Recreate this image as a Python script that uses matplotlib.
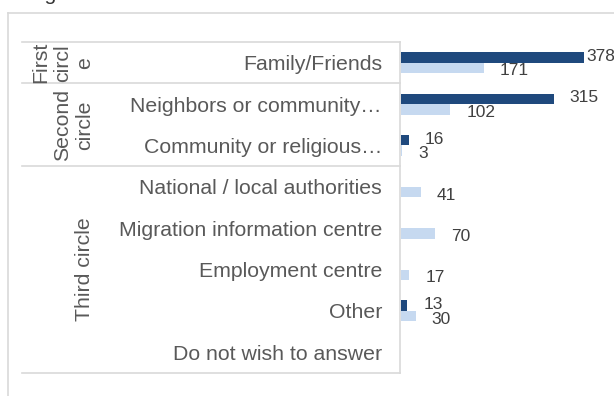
import matplotlib.pyplot as plt
from matplotlib.transforms import blended_transform_factory

plt.rcParams["font.family"] = ["Liberation Sans", "DejaVu Sans"]

W, H = 614, 396

categories = [
    "Family/Friends",
    "Neighbors or community…",
    "Community or religious…",
    "National / local authorities",
    "Migration information centre",
    "Employment centre",
    "Other",
    "Do not wish to answer",
]
groups = ["First\ncircl\ne", "Second\ncircle", "Third circle"]
group_rows = [(0, 0), (1, 2), (3, 7)]

series_dark = [378, 315, 16, 0, 0, 0, 13, 0]
series_light = [171, 102, 3, 41, 70, 17, 30, 0]

DARK = "#1f497d"
LIGHT = "#c6d9f0"
GRID = "#d9d9d9"
TEXT = "#595959"
LABEL = "#404040"

# table area in pixels
TOP, BOTTOM = 42, 373
BAR_X0 = 401
PX_PER_UNIT = 0.4845

fig = plt.figure(figsize=(W / 100, H / 100), dpi=100)

# pixel-space overlay for frame and table lines
frame = fig.add_axes([0, 0, 1, 1])
frame.set_xlim(0, W)
frame.set_ylim(H, 0)
frame.axis("off")
frame.plot([8, 8], [13, H], color=GRID, lw=1.2)
frame.plot([8, W], [13, 13], color=GRID, lw=1.2)

row_h = (BOTTOM - TOP) / len(categories)
for start, end in group_rows:
    y = TOP + start * row_h
    frame.plot([22, 400], [y, y], color=GRID, lw=1.2)
frame.plot([22, 400], [BOTTOM, BOTTOM], color=GRID, lw=1.2)
frame.plot([400, 400], [TOP, BOTTOM], color=GRID, lw=1.2)

# heading sits mostly above the top edge
fig.text(28 / W, 395.5 / H, "ing of the information", fontsize=15.3,
         color="#333333", va="baseline")

ax = fig.add_axes([BAR_X0 / W, 1 - BOTTOM / H, (W - BAR_X0) / W, (BOTTOM - TOP) / H])
ax.patch.set_alpha(0)
for s in ax.spines.values():
    s.set_visible(False)

pos = list(range(len(categories)))
bh = 0.254
ax.barh([p - bh / 2 for p in pos], series_dark, height=bh, color=DARK)
ax.barh([p + bh / 2 for p in pos], series_light, height=bh, color=LIGHT)
ax.set_xlim(0, (W - BAR_X0) / PX_PER_UNIT)
ax.set_ylim(len(categories) - 0.5, -0.5)
ax.set_xticks([])
ax.set_yticks(pos)
ax.set_yticklabels(categories, fontsize=15.3, color=TEXT)
ax.tick_params(axis="y", length=0, pad=13.7)

# value labels
for i, v in enumerate(series_dark):
    if v:
        dx = 2 if v == max(series_dark) else 16
        ax.annotate(str(v), (v, i - bh / 2), xytext=(dx, 1), textcoords="offset pixels",
                    ha="left", va="center", fontsize=12.5, color=LABEL)
for i, v in enumerate(series_light):
    if v:
        ax.annotate(str(v), (v, i + bh / 2), xytext=(16, -3), textcoords="offset pixels",
                    ha="left", va="center", fontsize=12.5, color=LABEL)

# group labels on the left
trans = blended_transform_factory(frame.transData, ax.transData)
for name, (start, end) in zip(groups, group_rows):
    ax.text(94, (start + end) / 2, name, transform=trans, rotation=90,
            ha="right", va="center", multialignment="center",
            fontsize=15.3, color=TEXT, linespacing=1.2)

fig.savefig("out.png", dpi=100)
